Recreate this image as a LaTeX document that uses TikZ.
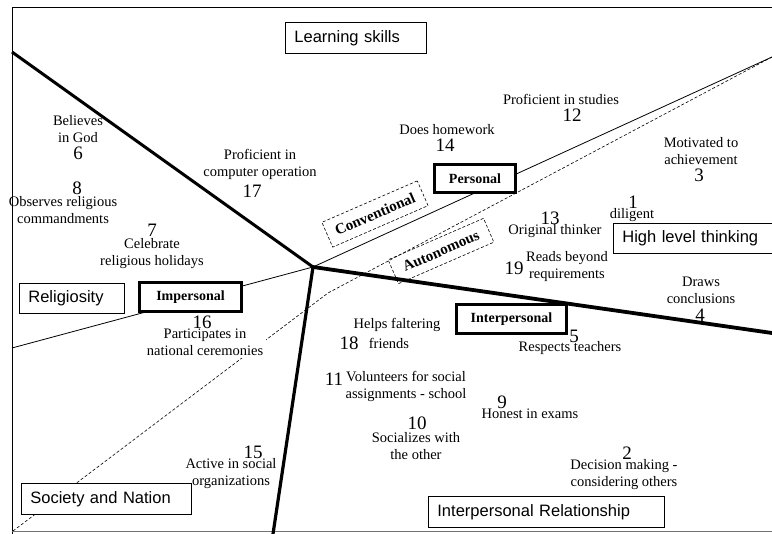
\documentclass[tikz,border=0pt]{standalone}
\usepackage{fontspec}
\setmainfont{Liberation Serif}
\setsansfont{Liberation Sans}
\begin{document}
\begin{tikzpicture}[x=1pt,y=-1pt,
  lbl/.style={align=center,inner sep=0pt,font=\fontsize{14.5}{17}\selectfont},
  num/.style={inner sep=0pt,font=\fontsize{19}{19}\selectfont},
  catbox/.style={draw,line width=0.8pt,fill=white,inner xsep=9pt,inner ysep=0pt,align=left,anchor=north west,font=\sffamily\fontsize{16.5}{18}\selectfont},
  corebox/.style={draw,line width=3pt,fill=white,inner sep=0pt,font=\bfseries\fontsize{14}{16}\selectfont},
  stylebox/.style={draw,dash pattern=on 3pt off 2pt,line width=0.6pt,inner sep=0pt,rotate=23.5,minimum width=104pt,font=\bfseries\fontsize{15}{17}\selectfont},
  thinax/.style={line width=0.8pt},
  dashax/.style={line width=0.6pt,dash pattern=on 3pt off 2pt}]
\useasboundingbox (0,0) rectangle (772,534);
% frame
\draw[thinax] (12,534) -- (12,7) -- (772,7);
\draw[line width=0.8pt,black!55] (12,531) -- (772,531);
% axes
\coordinate (c) at (313,267);
\coordinate (ul) at (12,52);
\coordinate (ur) at (772,57);
\coordinate (rr) at (772,333);
\coordinate (ll) at (12,348);
\coordinate (dd) at (273,534);
\coordinate (dstart) at (13,531);
\coordinate (dbend) at (328,293);
\draw[line width=3pt] (c) -- (ul);
\draw[thinax] (c) -- (ur);
\draw[line width=3.8pt] (c) -- (rr);
\draw[thinax] (c) -- (ll);
\draw[line width=3.2pt] (c) -- (dd);
\draw[dashax] (dstart) -- (dbend) -- (ur);
% labels
\node[lbl] (t6) at (78,129) {Believes\\in God};
\node[num] (n6) at (78,153) {6};
\node[num] (n8) at (77,188) {8};
\node[lbl] (t8) at (63,210) {Observes religious\\commandments};
\node[num] (n7) at (152,230) {7};
\node[lbl] (t7) at (152,254) {Celebrate\\religious holidays};
\node[lbl] (t17) at (260,164) {Proficient in\\computer operation};
\node[num] (n17) at (252,191) {17};
\node[lbl] (t14) at (447,130) {Does homework};
\node[num] (n14) at (445,145) {14};
\node[lbl] (t12) at (561,99) {Proficient in studies};
\node[num] (n12) at (572,115) {12};
\node[lbl] (t3) at (701,151) {Motivated to\\achievement};
\node[num] (n3) at (699,175) {3};
\node[num] (n1) at (633,202) {1};
\node[lbl] (t1) at (632,215) {diligent};
\node[num] (n13) at (550,218) {13};
\node[lbl] (t13) at (555,231) {Original thinker};
\node[lbl] (t19) at (567,267) {Reads beyond\\requirements};
\node[num] (n19) at (514,268) {19};
\node[lbl] (t4) at (701,290) {Draws\\conclusions};
\node[num] (n4) at (700,315) {4};
\node[num] (n5) at (574,336) {5};
\node[lbl] (t5) at (570,348) {Respects teachers};
\node[lbl] (t18a) at (397,325) {Helps faltering};
\node[lbl] (t18b) at (389,343) {friends};
\node[num] (n18) at (349,343) {18};
\node[lbl] (t11) at (406,386) {Volunteers for social\\assignments - school};
\node[num] (n11) at (334,379) {11};
\node[num] (n9) at (502,402) {9};
\node[lbl] (t9) at (530,414) {Honest in exams};
\node[num] (n10) at (417,423) {10};
\node[lbl] (t10) at (416,446) {Socializes with\\the other};
\node[num] (n2) at (627,453) {2};
\node[lbl] (t2) at (624,475) {Decision making -\\considering others};
\node[num] (n15) at (253,452) {15};
\node[lbl] (t15) at (231,474) {Active in social\\organizations};
\node[lbl,fill=white,inner sep=3pt] (t16) at (205,342) {Participates in\\national ceremonies};
\node[num] (n16) at (202,322) {16};
% category boxes
\node[catbox,minimum height=31pt,text width=123pt] (learn) at (285,22) {Learning skills};
\node[catbox,minimum height=30pt,text width=143pt] (high) at (613,223) {High level thinking};
\node[catbox,minimum height=30pt,text width=87pt] (relig) at (19,283) {Religiosity};
\node[catbox,minimum height=31pt,text width=152pt] (soc) at (21,483) {Society and Nation};
\node[catbox,minimum height=31pt,text width=218pt] (inter) at (428,496) {Interpersonal Relationship};
% core boxes
\node[corebox,minimum width=81pt,minimum height=28pt] (pers) at (475,178.5) {Personal};
\node[corebox,minimum width=102pt,minimum height=29pt] (imp) at (190.5,297) {Impersonal};
\node[corebox,minimum width=110pt,minimum height=29pt] (intp) at (511.5,319) {Interpersonal};
% style boxes
\node[stylebox,minimum height=27pt] (conv) at (375,214) {Conventional};
\node[stylebox,minimum height=26pt] (auto) at (441,251) {Autonomous};
\end{tikzpicture}
\end{document}
